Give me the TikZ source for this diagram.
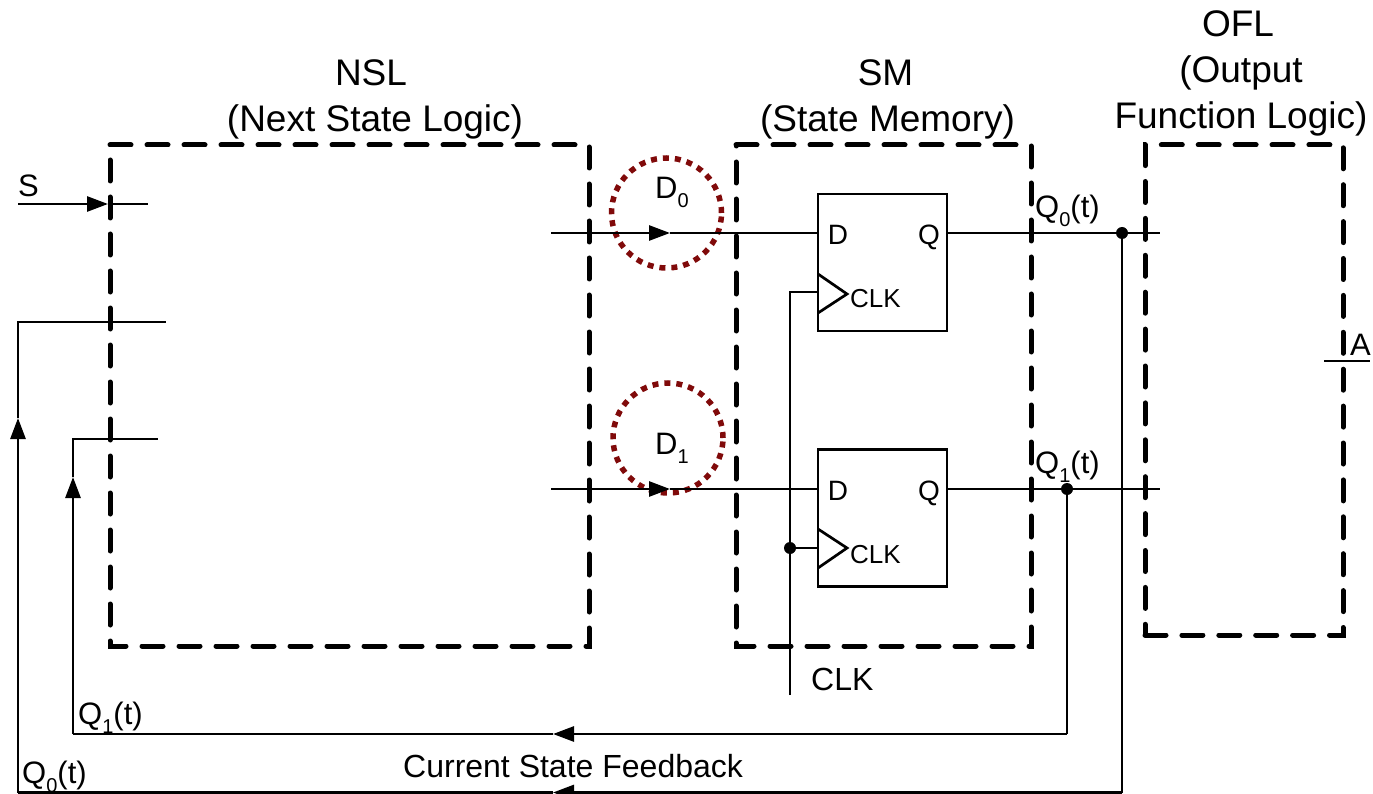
\documentclass[tikz,border=0pt]{standalone}
\usepackage{fontspec}
\setmainfont{Liberation Sans}
\usetikzlibrary{arrows.meta}
\definecolor{dred}{RGB}{128,10,10}
\newcommand{\lowsub}[1]{\raisebox{-9pt}{\fontsize{20}{20}\selectfont #1}}
\newcommand{\padr}[1]{\hbox to #1{\hfil}}
\tikzset{
 wire/.style={line width=2.7pt,draw=black},
 tip/.style={wire,-{Triangle[length=21pt,width=15pt]}},
 region/.style={line width=5pt,line cap=round,dash pattern=on 21pt off 16pt,draw=black},
 regionb/.style={region,dash pattern=on 21pt off 15.9pt},
 ffbox/.style={line width=2.7pt,draw=black,minimum width=129pt,minimum height=137pt,inner sep=0pt},
 ring/.style={line width=5.5pt,draw=dred,circle,minimum size=110pt,inner sep=0pt,dash pattern=on 6pt off 6pt},
 dotn/.style={circle,fill=black,minimum size=12pt,inner sep=0pt},
 big/.style={font=\fontsize{37}{46}\selectfont,align=center,inner sep=0pt},
 pin/.style={font=\fontsize{28}{33}\selectfont,inner sep=0pt},
 mid/.style={font=\fontsize{31}{36}\selectfont,inner sep=0pt},
 note/.style={font=\fontsize{32}{36}\selectfont,inner sep=0pt},
 small/.style={font=\fontsize{26}{30}\selectfont,inner sep=0pt}
}
\begin{document}
\begin{tikzpicture}[x=1pt,y=-1pt]
\useasboundingbox (0,0) rectangle (1373,794);
% regions
\coordinate (nsl1) at (110,145); \coordinate (nsl2) at (589,646);
\coordinate (sm1) at (736,145); \coordinate (sm2) at (1031,646);
\coordinate (ofl1) at (1145,145); \coordinate (ofl2) at (1343,635);
\draw[region] (nsl1) -- (nsl1 -| nsl2) -- (nsl2) -- (nsl2 -| nsl1) -- cycle;
\draw[region] (sm1) -- (sm1 -| sm2) -- (sm2) -- (sm2 -| sm1) -- cycle;
\draw[regionb] (ofl2 -| ofl1) -- (ofl2) -- (ofl1 -| ofl2) -- (ofl1) -- cycle;
% flip-flops
\node[ffbox] (ff0) at (882.5,262.5) {};
\node[ffbox] (ff1) at (882.5,518) {};
\coordinate (t0a) at (818,274); \coordinate (t0b) at (847,294); \coordinate (t0c) at (818,313);
\coordinate (t1a) at (818,529); \coordinate (t1b) at (847,548); \coordinate (t1c) at (818,568);
\draw[wire] (t0a) -- (t0b) -- (t0c);
\draw[wire] (t1a) -- (t1b) -- (t1c);
\node[pin,anchor=base] (d0l) at (838,245) {D};
\node[pin,anchor=base] (q0l) at (929,245) {Q};
\node[small,anchor=base west] (c0l) at (850,308) {CLK};
\node[pin,anchor=base] (d1l) at (838,500) {D};
\node[pin,anchor=base] (q1l) at (929,500) {Q};
\node[small,anchor=base west] (c1l) at (850,563) {CLK};
% circles
\node[ring] (r0) at (666.5,213) {};
\node[ring] (r1) at (668,438) {};
\node[anchor=base west,mid] (d0t) at (655,199) {D\lowsub{0}};
\node[anchor=base west,mid] (d1t) at (655,454) {D\lowsub{1}};
% coordinates
\coordinate (sS) at (18,204); \coordinate (sT) at (108,204); \coordinate (sE) at (148,204);
\coordinate (d0S) at (551,233); \coordinate (d0T) at (670,233); \coordinate (d0E) at (818,233);
\coordinate (d1S) at (551,489); \coordinate (d1T) at (670,489); \coordinate (d1E) at (818,489);
\coordinate (q0S) at (947,233); \coordinate (q0E) at (1160,233);
\coordinate (q1S) at (947,489); \coordinate (q1E) at (1160,489);
\node[dotn] (j0) at (1122,233) {};
\node[dotn] (j1) at (1067,489) {};
\node[dotn] (jc) at (790,548) {};
\coordinate (clkS) at (790,695); \coordinate (clkT) at (790,292); \coordinate (clkI) at (818,292);
\coordinate (clkJ) at (818,548);
\coordinate (fb0a) at (1122,792.5); \coordinate (fb0t) at (553,792.5); \coordinate (fb0b) at (18,792.5);
\coordinate (fb0u) at (18,418); \coordinate (fb0c) at (18,322); \coordinate (fb0e) at (166,322);
\coordinate (fb1a) at (1067,734); \coordinate (fb1t) at (553,734); \coordinate (fb1b) at (73,734);
\coordinate (fb1u) at (73,477); \coordinate (fb1c) at (73,439); \coordinate (fb1e) at (158,439);
\coordinate (aS) at (1324,361); \coordinate (aE) at (1370,361);
% wires
\draw[tip] (sS) -- (sT); \draw[wire] (sT) -- (sE);
\draw[tip] (d0S) -- (d0T); \draw[wire] (d0T) -- (d0E);
\draw[tip] (d1S) -- (d1T); \draw[wire] (d1T) -- (d1E);
\draw[wire] (q0S) -- (q0E);
\draw[wire] (q1S) -- (q1E);
\draw[wire] (clkS) -- (clkT) -- (clkI);
\draw[wire] (jc) -- (clkJ);
\draw[wire] (j0) -- (fb0a);
\draw[tip] (fb0a) -- (fb0t);
\draw[wire] (fb0t) -- (fb0b);
\draw[tip] (fb0b) -- (fb0u);
\draw[wire] (fb0u) -- (fb0c) -- (fb0e);
\draw[wire] (j1) -- (fb1a);
\draw[tip] (fb1a) -- (fb1t);
\draw[wire] (fb1t) -- (fb1b);
\draw[tip] (fb1b) -- (fb1u);
\draw[wire] (fb1u) -- (fb1c) -- (fb1e);
\draw[wire] (aS) -- (aE);
% labels
\node[big] (nslT) at (375,99.5) {NSL\padr{8pt}\\(Next State Logic)};
\node[big] (smT) at (887.5,99.5) {SM\padr{4pt}\\(State Memory)};
\node[big] (oflT) at (1241,73.5) {OFL\padr{6pt}\\(Output\\Function Logic)};
\node[mid,anchor=base west] (sL) at (18,197) {S};
\node[mid,anchor=base west] (aL) at (1350,355) {A};
\node[note,anchor=base west] (clkL) at (811,690) {CLK};
\node[mid,anchor=base west] (q0a) at (1035,218) {Q\lowsub{0}(t)};
\node[mid,anchor=base west] (q1a) at (1035,473) {Q\lowsub{1}(t)};
\node[mid,anchor=base west] (q1b) at (78,724) {Q\lowsub{1}(t)};
\node[mid,anchor=base west] (q0b) at (22,783) {Q\lowsub{0}(t)};
\node[note,anchor=base west] (cur) at (403,777) {Current State Feedback};
\end{tikzpicture}
\end{document}
